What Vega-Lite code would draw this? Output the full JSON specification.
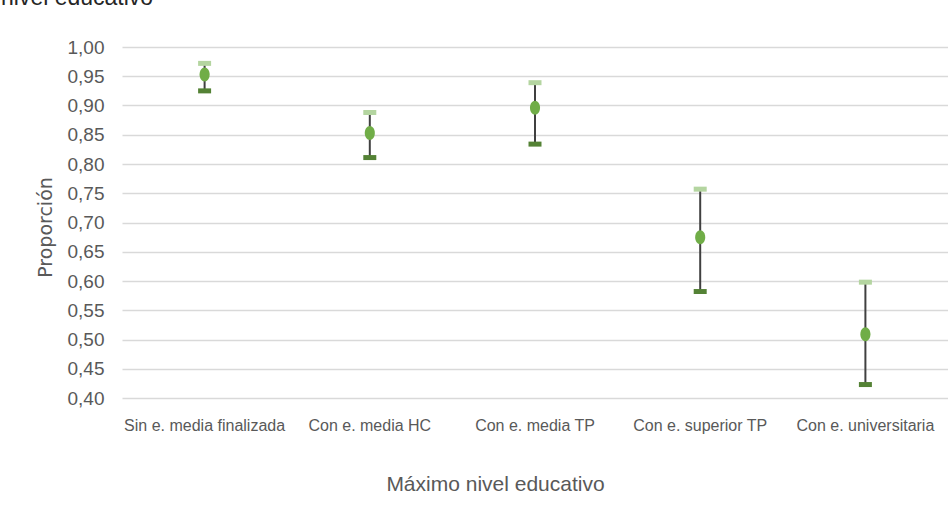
{
  "$schema": "https://vega.github.io/schema/vega-lite/v6.json",
  "autosize": {"type": "none"},
  "padding": {"left": 122, "top": 47, "right": 0, "bottom": 120},
  "width": 826,
  "height": 351,
  "background": "white",
  "title": {
    "text": "nivel educativo",
    "anchor": "start",
    "frame": "group",
    "orient": "top",
    "baseline": "alphabetic",
    "dx": -121,
    "offset": 10,
    "fontSize": 23,
    "fontWeight": "normal",
    "font": "Liberation Sans",
    "color": "#262626"
  },
  "config": {
    "view": {"stroke": null},
    "font": "Liberation Sans",
    "axisY": {
      "titleFont": "DejaVu Sans",
      "titleFontSize": 19,
      "titleFontWeight": "normal",
      "titleColor": "#595959",
      "titleX": -77,
      "titleY": 180,
      "titleAlign": "center",
      "titleBaseline": "middle",
      "labelFontSize": 19,
      "labelColor": "#595959",
      "labelPadding": 18,
      "labelOverlap": false,
      "domain": false,
      "ticks": false,
      "gridColor": "#d9d9d9",
      "gridWidth": 1.6
    }
  },
  "data": {
    "values": [
      {"nivel": "Sin e. media finalizada", "proporcion": 0.953, "inferior": 0.925, "superior": 0.972},
      {"nivel": "Con e. media HC", "proporcion": 0.853, "inferior": 0.811, "superior": 0.888},
      {"nivel": "Con e. media TP", "proporcion": 0.896, "inferior": 0.834, "superior": 0.939},
      {"nivel": "Con e. superior TP", "proporcion": 0.675, "inferior": 0.582, "superior": 0.757},
      {"nivel": "Con e. universitaria", "proporcion": 0.509, "inferior": 0.423, "superior": 0.598}
    ]
  },
  "encoding": {
    "x": {
      "field": "nivel",
      "type": "nominal",
      "sort": null,
      "scale": {"paddingInner": 0, "paddingOuter": 0},
      "axis": {
        "title": "Máximo nivel educativo",
        "titleFontSize": 21,
        "titleFontWeight": "normal",
        "titleColor": "#595959",
        "titleX": 373,
        "titleY": 92,
        "titleAlign": "center",
        "titleBaseline": "alphabetic",
        "labelAngle": 0,
        "labelFontSize": 16,
        "labelColor": "#595959",
        "labelPadding": 19,
        "labelLimit": 0,
        "labelOverlap": false,
        "domain": false,
        "ticks": false,
        "grid": false
      }
    }
  },
  "layer": [
    {
      "mark": {"type": "rule", "color": "#404040", "strokeWidth": 2},
      "encoding": {
        "y": {
          "field": "inferior",
          "type": "quantitative",
          "scale": {"domain": [0.4, 1.0], "nice": false, "zero": false},
          "axis": {
            "title": "Proporción",
            "values": [0.4, 0.45, 0.5, 0.55, 0.6, 0.65, 0.7, 0.75, 0.8, 0.85, 0.9, 0.95, 1.0],
            "labelExpr": "replace(format(datum.value, '.2f'), '.', ',')"
          }
        },
        "y2": {"field": "superior"}
      }
    },
    {
      "mark": {"type": "tick", "orient": "horizontal", "color": "#b4d5a0", "size": 13, "thickness": 5, "opacity": 1},
      "encoding": {
        "y": {
          "field": "superior",
          "type": "quantitative",
          "axis": {
            "title": "Proporción",
            "values": [0.4, 0.45, 0.5, 0.55, 0.6, 0.65, 0.7, 0.75, 0.8, 0.85, 0.9, 0.95, 1.0],
            "labelExpr": "replace(format(datum.value, '.2f'), '.', ',')"
          }
        }
      }
    },
    {
      "mark": {"type": "tick", "orient": "horizontal", "color": "#548235", "size": 13, "thickness": 5, "opacity": 1},
      "encoding": {
        "y": {
          "field": "inferior",
          "type": "quantitative",
          "axis": {
            "title": "Proporción",
            "values": [0.4, 0.45, 0.5, 0.55, 0.6, 0.65, 0.7, 0.75, 0.8, 0.85, 0.9, 0.95, 1.0],
            "labelExpr": "replace(format(datum.value, '.2f'), '.', ',')"
          }
        }
      }
    },
    {
      "mark": {
        "type": "point",
        "filled": true,
        "opacity": 1,
        "color": "#70ad47",
        "size": 196,
        "shape": "M0,-1A0.72,1,0,1,1,0,1A0.72,1,0,1,1,0,-1Z"
      },
      "encoding": {
        "y": {
          "field": "proporcion",
          "type": "quantitative",
          "axis": {
            "title": "Proporción",
            "values": [0.4, 0.45, 0.5, 0.55, 0.6, 0.65, 0.7, 0.75, 0.8, 0.85, 0.9, 0.95, 1.0],
            "labelExpr": "replace(format(datum.value, '.2f'), '.', ',')"
          }
        }
      }
    }
  ]
}
